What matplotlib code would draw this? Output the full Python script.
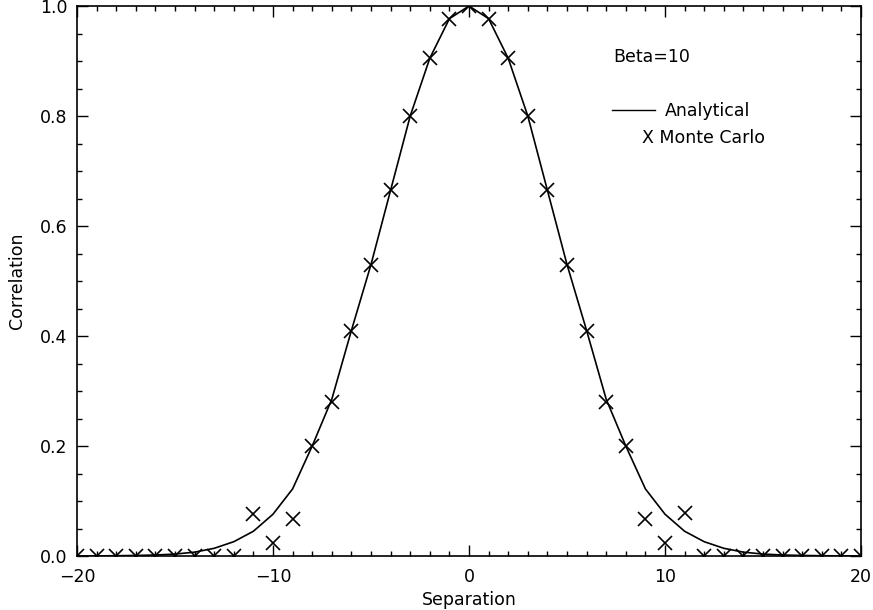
import matplotlib
matplotlib.use("Agg")
import matplotlib.pyplot as plt
from matplotlib.lines import Line2D
from matplotlib.ticker import MultipleLocator

# ---- data ----
separation = list(range(-20, 21))
analytical = [0.0001, 0.0002, 0.0005, 0.001, 0.0018, 0.0035, 0.007, 0.014, 0.026, 0.045,
              0.076, 0.122, 0.20, 0.285, 0.41, 0.53, 0.665, 0.80, 0.905, 0.977,
              1.0,
              0.977, 0.905, 0.80, 0.665, 0.53, 0.41, 0.285, 0.20, 0.122, 0.076,
              0.045, 0.026, 0.014, 0.007, 0.0035, 0.0018, 0.001, 0.0005, 0.0002, 0.0001]
monte_carlo = [0.0, 0.0, 0.0, 0.0, 0.0, 0.0, 0.0, 0.0, 0.0, 0.077,
               0.024, 0.067, 0.20, 0.28, 0.41, 0.53, 0.665, 0.80, 0.905, 0.977,
               1.0,
               0.977, 0.905, 0.80, 0.665, 0.53, 0.41, 0.28, 0.20, 0.067, 0.024,
               0.078, 0.0, 0.0, 0.0, 0.0, 0.0, 0.0, 0.0, 0.0, 0.0]
x_ticks = [-20, -10, 0, 10, 20]
y_ticks = [0.0, 0.2, 0.4, 0.6, 0.8, 1.0]

W, H = 873, 610
fs = 12.5
plt.rcParams['font.family'] = ['DejaVu Sans']
fig = plt.figure(figsize=(W / 100, H / 100), dpi=100)
ax = fig.add_axes([77 / W, 1 - 556 / H, (861 - 77) / W, (556 - 6) / H])

ax.plot(separation, analytical, color='black', lw=1.2)
ax.plot(separation, monte_carlo, linestyle='none', marker='x', color='black',
        markersize=9.5, markeredgewidth=1.2)

ax.set_xlim(-20, 20)
ax.set_ylim(0, 1.0)
ax.set_xticks(x_ticks)
ax.set_xticklabels(['\u221220', '\u221210', '0', '10', '20'])
ax.set_yticks(y_ticks)
ax.set_yticklabels(['%.1f' % v for v in y_ticks])
ax.xaxis.set_minor_locator(MultipleLocator(1))
ax.yaxis.set_minor_locator(MultipleLocator(0.05))
ax.tick_params(which='both', direction='in', top=True, right=True, width=1.0)
ax.tick_params(which='major', length=8, labelsize=fs)
ax.tick_params(which='minor', length=3.8)
ax.tick_params(axis='x', which='major', pad=9)
ax.tick_params(axis='y', which='major', pad=7)
for s in ax.spines.values():
    s.set_linewidth(1.2)

ax.set_xlabel('Separation', fontsize=fs, labelpad=3)
ax.set_ylabel('Correlation', fontsize=fs, labelpad=10)

# annotations / legend
ax.text((613 - 77) / 784, (556 - 57) / 550, 'Beta=10', transform=ax.transAxes,
        fontsize=fs, ha='left', va='center')
leg = fig.legend(handles=[Line2D([], [], color='black', lw=1.0)], labels=['Analytical'],
                 loc='center left', bbox_to_anchor=(612 / W, 1 - 111 / H),
                 frameon=False, fontsize=fs, handlelength=2.5, handletextpad=0.55,
                 borderpad=0, borderaxespad=0)
ax.text((642 - 77) / 784, (556 - 138) / 550, 'X Monte Carlo', transform=ax.transAxes,
        fontsize=fs, ha='left', va='center')

fig.savefig('out.png', dpi=100)
